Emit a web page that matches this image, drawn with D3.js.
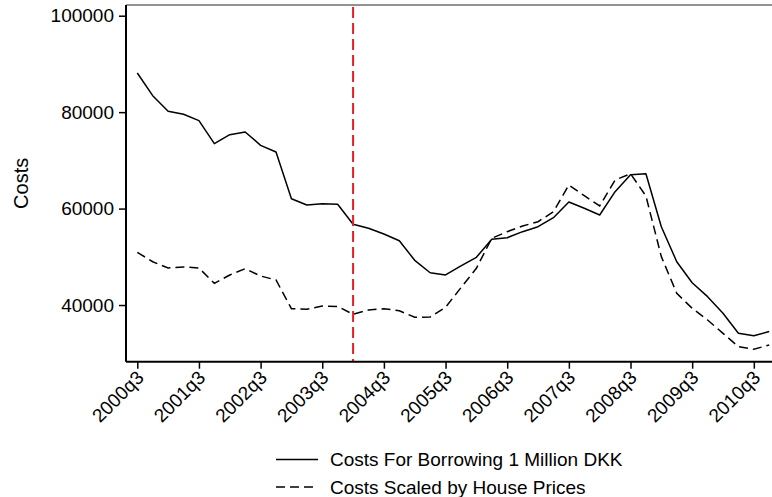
<!DOCTYPE html>
<html><head><meta charset="utf-8">
<script src="https://cdn.jsdelivr.net/npm/d3@7"></script>
<style>body{margin:0;background:#fff}svg{display:block;font-family:"Liberation Sans",Arial,sans-serif}</style>
</head><body><svg id="c" width="772" height="497"></svg>
<script>
const periods = ["2000q3","2000q4","2001q1","2001q2","2001q3","2001q4","2002q1","2002q2","2002q3","2002q4",
"2003q1","2003q2","2003q3","2003q4","2004q1","2004q2","2004q3","2004q4","2005q1","2005q2","2005q3","2005q4",
"2006q1","2006q2","2006q3","2006q4","2007q1","2007q2","2007q3","2007q4","2008q1","2008q2","2008q3","2008q4",
"2009q1","2009q2","2009q3","2009q4","2010q1","2010q2","2010q3","2010q4"];
const borrowing = [88120,83410,80170,79550,78230,73460,75320,75880,73120,71730,62050,60740,61010,60890,56740,55910,
54730,53340,49270,46700,46230,48100,49900,53630,53960,55210,56240,58110,61370,60060,58670,63500,67030,67230,56240,
48980,44630,41730,38280,34130,33640,34510];
const scaled = [50930,48980,47680,47890,47680,44500,46230,47530,46020,45190,39240,39110,39800,39700,38080,38970,
39240,38820,37450,37520,39530,43600,47610,53830,55210,56390,57280,59350,64890,62670,60540,65930,67230,62600,50030,
42430,39320,36890,34130,31360,30820,31710];
const xTickLabels = ["2000q3","2001q3","2002q3","2003q3","2004q3","2005q3","2006q3","2007q3","2008q3","2009q3","2010q3"];
const yTicks = [40000,60000,80000,100000];
const markerPeriod = "2004q1";
const seriesNames = ["Costs For Borrowing 1 Million DKK","Costs Scaled by House Prices"];
const yTitle = "Costs";

const svg = d3.select("#c");
const L = 126, R = 772, T = 5, B = 361.7;
const FS = 19;
const x = d3.scaleLinear().domain([-0.733, 41.18]).range([L, R]);
const y = d3.scaleLinear().domain([28245, 102219]).range([B, T]);

svg.append("defs").append("clipPath").attr("id","clip").append("rect")
  .attr("x",L).attr("y",T).attr("width",R-L).attr("height",B-T);

// top frame line
svg.append("line").attr("x1",L).attr("x2",R).attr("y1",T).attr("y2",T)
  .attr("stroke","#6e6e6e").attr("stroke-width",1.6);

const line = d3.line().x((d,i)=>x(i)).y(d=>y(d));
const g = svg.append("g").attr("clip-path","url(#clip)");
g.append("path").datum(borrowing).attr("d",line).attr("fill","none")
  .attr("stroke","#000").attr("stroke-width",1.5).attr("stroke-linejoin","round");
g.append("path").datum(scaled).attr("d",line).attr("fill","none")
  .attr("stroke","#000").attr("stroke-width",1.5).attr("stroke-dasharray","9,5");

// marker line
const mi = periods.indexOf(markerPeriod);
svg.append("line").attr("x1",x(mi)).attr("x2",x(mi)).attr("y1",T+2).attr("y2",B)
  .attr("stroke","#ee1c24").attr("stroke-width",2).attr("stroke-dasharray","11,5");

// y axis
const yAx = svg.append("g").attr("transform",`translate(${L},0)`)
  .call(d3.axisLeft(y).tickValues(yTicks).tickFormat(d3.format("d")).tickSize(7).tickPadding(5));
yAx.select(".domain").attr("d",`M0,${T}V${B}`).attr("stroke","#000").attr("stroke-width",2);
yAx.selectAll(".tick line").attr("stroke","#000").attr("stroke-width",1.5);
yAx.selectAll(".tick text").attr("font-size",FS).attr("fill","#000").attr("font-family","Liberation Sans, Arial, sans-serif");

// x axis
const xTickIdx = xTickLabels.map(l=>periods.indexOf(l));
const xAx = svg.append("g").attr("transform",`translate(0,${B})`)
  .call(d3.axisBottom(x).tickValues(xTickIdx).tickFormat(i=>periods[i]).tickSize(7));
xAx.select(".domain").attr("d",`M${L},0H${R}`).attr("stroke","#000").attr("stroke-width",2);
xAx.selectAll(".tick line").attr("stroke","#000").attr("stroke-width",1.5);
xAx.selectAll(".tick text").attr("font-size",FS).attr("fill","#000")
  .attr("font-family","Liberation Sans, Arial, sans-serif")
  .attr("text-anchor","end").attr("dy",0)
  .attr("transform","translate(0,10) rotate(-45)");

// y title
svg.append("text").attr("transform",`translate(28,${(T+B)/2}) rotate(-90)`)
  .attr("text-anchor","middle").attr("font-size",20).attr("fill","#000").text(yTitle);

// legend
const lg = svg.append("g");
seriesNames.forEach((n,k)=>{
  const yy = 459.5 + k*27.5;
  lg.append("line").attr("x1",276).attr("x2",318).attr("y1",yy).attr("y2",yy)
    .attr("stroke","#000").attr("stroke-width",1.5).attr("stroke-dasharray",k? "9,5":null);
  lg.append("text").attr("x",330).attr("y",yy).attr("dy","0.35em").attr("font-size",FS).attr("fill","#000").text(n);
});
</script></body></html>
